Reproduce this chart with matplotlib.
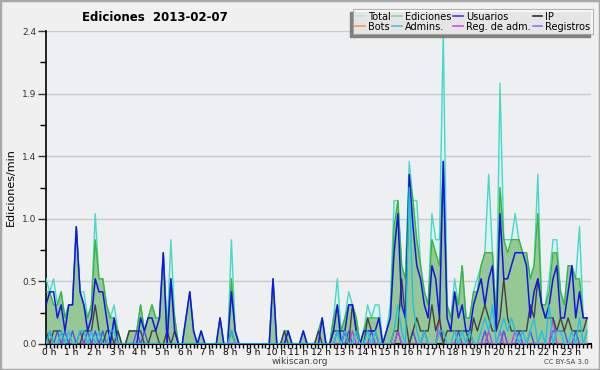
import numpy as np
import matplotlib
matplotlib.use("Agg")
import matplotlib.pyplot as plt
from matplotlib.lines import Line2D
from matplotlib.patches import Rectangle

# edits per 10-minute bin (144 bins), divided by 10 -> edits/min
total = [5, 4, 5, 3, 4, 2,  3, 3, 9, 4, 4, 2,  3, 10, 5, 5, 3, 2,  3, 1, 0, 0, 1, 1,
         1, 3, 1, 2, 3, 2,  2, 7, 1, 8, 2, 0,  0, 2, 4, 1, 0, 1,  0, 0, 0, 0, 2, 0,
         0, 8, 1, 0, 0, 0,  0, 0, 0, 0, 0, 0,  5, 0, 0, 1, 1, 0,  0, 0, 1, 0, 0, 0,
         1, 2, 0, 0, 2, 5,  1, 2, 4, 3, 2, 0,  1, 3, 2, 3, 3, 0,  1, 3, 11, 11, 6, 5,
         14, 11, 11, 6, 4, 3,  10, 8, 8, 24, 3, 2,  5, 3, 6, 2, 2, 4,  5, 6, 7, 13, 7, 2,
         20, 8, 8, 8, 10, 8,  7, 7, 5, 6, 13, 3,  3, 5, 8, 8, 4, 3,  6, 6, 5, 9, 2, 2]
ediciones = [4, 4, 3, 3, 4, 2,  3, 3, 9, 4, 3, 2,  3, 8, 5, 5, 3, 2,  2, 1, 0, 0, 1, 1,
             1, 3, 1, 2, 3, 2,  2, 7, 1, 5, 2, 0,  0, 2, 4, 1, 0, 1,  0, 0, 0, 0, 2, 0,
             0, 5, 1, 0, 0, 0,  0, 0, 0, 0, 0, 0,  5, 0, 0, 1, 1, 0,  0, 0, 1, 0, 0, 0,
             1, 2, 0, 0, 2, 3,  1, 2, 3, 3, 2, 0,  1, 2, 2, 2, 2, 0,  1, 2, 9, 11, 6, 5,
             13, 11, 8, 6, 4, 3,  8, 7, 6, 14, 3, 2,  4, 3, 6, 2, 2, 4,  4, 6, 7, 7, 7, 2,
             12, 8, 7, 8, 8, 8,  7, 7, 5, 6, 10, 3,  3, 4, 7, 7, 4, 3,  6, 6, 5, 5, 2, 2]
usuarios = [3, 4, 4, 2, 3, 1,  3, 3, 9, 4, 3, 1,  2, 5, 4, 4, 2, 0,  2, 0, 0, 0, 0, 0,
            0, 2, 1, 2, 2, 1,  2, 7, 0, 5, 1, 0,  0, 2, 4, 1, 0, 1,  0, 0, 0, 0, 2, 0,
            0, 4, 1, 0, 0, 0,  0, 0, 0, 0, 0, 0,  5, 0, 0, 0, 1, 0,  0, 0, 1, 0, 0, 0,
            0, 2, 0, 0, 1, 3,  0, 1, 3, 3, 1, 0,  1, 1, 1, 1, 2, 0,  1, 2, 7, 10, 3, 2,
            13, 9, 6, 5, 3, 2,  6, 5, 2, 14, 2, 1,  4, 2, 3, 1, 1, 3,  4, 5, 3, 5, 6, 1,
            10, 5, 5, 6, 7, 7,  7, 6, 2, 4, 5, 3,  2, 3, 5, 6, 2, 2,  4, 6, 2, 4, 2, 2]
ip = [1, 0, 1, 1, 1, 0,  0, 0, 0, 0, 1, 1,  1, 3, 1, 0, 1, 1,  0, 1, 0, 0, 1, 1,
      1, 1, 0, 0, 1, 1,  0, 0, 1, 0, 1, 0,  0, 0, 0, 0, 0, 0,  0, 0, 0, 0, 0, 0,
      0, 1, 0, 0, 0, 0,  0, 0, 0, 0, 0, 0,  0, 0, 0, 1, 0, 0,  0, 0, 0, 0, 0, 0,
      1, 0, 0, 0, 1, 1,  1, 1, 0, 3, 1, 0,  0, 2, 1, 1, 0, 0,  0, 0, 1, 1, 5, 2,
      0, 1, 2, 1, 1, 1,  3, 1, 2, 0, 1, 1,  1, 1, 1, 1, 0, 2,  1, 2, 3, 2, 1, 1,
      2, 5, 2, 1, 1, 1,  1, 1, 3, 2, 5, 3,  2, 2, 2, 1, 2, 1,  2, 1, 1, 1, 1, 2]
bots = [0] * 144
admins = [0, 1, 0, 0, 1, 0,  1, 0, 0, 1, 1, 0,  1, 0, 1, 0, 0, 1,  1, 0, 0, 0, 0, 0,
          0, 0, 0, 0, 0, 0,  0, 0, 0, 0, 0, 0,  0, 0, 0, 0, 0, 0,  0, 0, 0, 0, 0, 0,
          0, 1, 0, 0, 0, 0,  0, 0, 0, 0, 0, 0,  0, 0, 0, 0, 0, 0,  0, 0, 0, 0, 0, 0,
          0, 0, 0, 0, 0, 1,  0, 1, 0, 0, 1, 0,  0, 1, 0, 1, 0, 0,  0, 0, 1, 3, 1, 0,
          12, 3, 1, 0, 1, 0,  0, 0, 1, 1, 0, 0,  1, 0, 1, 0, 1, 0,  0, 1, 2, 1, 3, 0,
          1, 2, 1, 2, 1, 0,  1, 0, 1, 2, 0, 1,  0, 3, 0, 1, 1, 0,  0, 1, 0, 2, 0, 1]
reg_adm = [0, 0, 0, 0, 0, 0,  0, 0, 0, 0, 0, 0,  0, 0, 0, 0, 0, 0,  0, 0, 0, 0, 0, 0,
           0, 0, 0, 0, 0, 0,  0, 0, 0, 0, 0, 0,  0, 0, 0, 0, 0, 0,  0, 0, 0, 0, 0, 0,
           0, 0, 0, 0, 0, 0,  0, 0, 0, 0, 0, 0,  0, 0, 0, 0, 0, 0,  0, 0, 0, 0, 0, 0,
           0, 0, 0, 0, 0, 0,  0, 1, 0, 1, 0, 0,  0, 0, 0, 0, 0, 0,  0, 0, 0, 1, 0, 0,
           0, 0, 0, 0, 0, 0,  0, 0, 2, 0, 0, 0,  0, 0, 0, 0, 0, 0,  0, 0, 0, 1, 0, 0,
           1, 0, 0, 0, 1, 0,  0, 0, 0, 0, 0, 0,  0, 0, 2, 0, 0, 0,  0, 0, 0, 0, 0, 0]
registros = [0, 1, 0, 1, 0, 1,  0, 1, 0, 1, 0, 1,  0, 1, 0, 1, 0, 0,  0, 0, 0, 0, 0, 0,
             1, 0, 1, 0, 0, 0,  0, 0, 0, 0, 0, 0,  0, 0, 0, 0, 0, 0,  0, 0, 0, 0, 0, 0,
             0, 0, 0, 0, 0, 0,  0, 0, 0, 0, 0, 0,  0, 0, 0, 0, 0, 0,  0, 0, 0, 0, 0, 0,
             0, 0, 0, 0, 0, 1,  0, 0, 1, 0, 0, 0,  0, 0, 1, 0, 0, 0,  0, 0, 0, 1, 0, 0,
             0, 1, 0, 0, 1, 0,  0, 0, 1, 0, 0, 0,  0, 1, 0, 0, 1, 0,  0, 0, 1, 0, 0, 0,
             0, 1, 0, 0, 0, 1,  0, 0, 1, 0, 0, 0,  0, 0, 1, 1, 1, 1,  0, 0, 1, 0, 0, 0]
hour_labels = ["%d h" % h for h in range(24)]

x = np.arange(144) / 6.0
def rate(v):
    return np.array(v) / 10.0

fig = plt.figure(figsize=(6, 3.7), dpi=100, facecolor="#f0f0f0")
ax = fig.add_axes([0.0767, 0.0703, 0.908, 0.8457])
ax.set_facecolor("#eeeff1")

ax.fill_between(x, 0, rate(total), color="#d8f4f0", lw=0, zorder=1)
ax.fill_between(x, 0, rate(ediciones), color="#96c896", lw=0, zorder=2)
ax.plot(x, rate(bots), color="#f0a040", lw=1, zorder=3)
ax.plot(x, rate(total), color="#48d8c8", lw=1, zorder=3)
ax.plot(x, rate(ediciones), color="#3cb43c", lw=1, zorder=4)
ax.plot(x, rate(registros), color="#5050e8", lw=1, zorder=4)
ax.plot(x, rate(reg_adm), color="#c040e0", lw=1, zorder=4)
ax.plot(x, rate(ip), color="#404040", lw=1, zorder=5)
ax.plot(x, rate(usuarios), color="#1414e6", lw=1.1, zorder=6)
ax.plot(x, rate(admins), color="#20c0e0", lw=1, zorder=6)

ax.set_xlim(0, 24)
ax.set_ylim(0, 2.4)
yt = np.linspace(0, 2.4, 6)
ax.set_yticks(yt)
ax.set_yticklabels(["%.1f" % v for v in yt])
ax.set_yticks((yt[:-1] + yt[1:]) / 2, minor=True)
ax.set_xticks(np.arange(24) + 0.12)
ax.set_xticklabels(hour_labels, ha="center")
ax.set_xticks(np.arange(145) / 6.0, minor=True)
ax.grid(axis="y", color="#c8c8c8", lw=1)
ax.set_axisbelow(True)
for side in ["top", "right"]:
    ax.spines[side].set_visible(False)
ax.spines["left"].set_linewidth(1.2)
ax.spines["bottom"].set_linewidth(1.5)
ax.tick_params(axis="y", which="major", length=6, width=1, labelsize=6.5, pad=1, colors="#333333")
ax.tick_params(axis="y", which="minor", length=4, width=1)
ax.tick_params(axis="x", which="major", length=0, labelsize=6.5, pad=3)
ax.tick_params(axis="x", which="minor", length=3, width=1)

fig.text(0.258, 0.953, "Ediciones  2013-02-07", ha="center", va="center",
         fontsize=8.5, fontweight="bold")
fig.text(0.018, 0.495, "Ediciones/min", rotation=90, ha="center", va="center", fontsize=8)
fig.text(0.5, 0.024, "wikiscan.org", ha="center", va="center", fontsize=6.5, color="#444444")
fig.text(0.982, 0.022, "CC BY-SA 3.0", ha="right", va="center", fontsize=5, color="#444444")

names = ["Total", "Bots", "Ediciones", "Admins.", "Usuarios", "Reg. de adm.", "IP", "Registros"]
colors = ["#b0ece4", "#f0a040", "#90d890", "#40c8d8", "#4040e0", "#d050e0", "#303030", "#8080f0"]
handles = [Line2D([], [], color=c, lw=1.2) for c in colors]
leg = fig.legend(handles, names, ncol=4, loc="upper right", bbox_to_anchor=(0.988, 0.975),
                 fontsize=7, frameon=True, fancybox=False, handlelength=1.0,
                 handletextpad=0.3, columnspacing=0.2, labelspacing=0.0,
                 borderpad=0.25, borderaxespad=0)
leg.get_frame().set_edgecolor("#a0a0a0")
leg.get_frame().set_linewidth(0.8)
fig.canvas.draw()
bb = leg.get_window_extent().transformed(fig.transFigure.inverted())
fig.patches.append(Rectangle((bb.x0 - 3 / 600, bb.y0 - 3 / 370), bb.width, bb.height,
                             transform=fig.transFigure, color="#808080", zorder=0))
leg.set_zorder(5)

fig.patches.append(Rectangle((0, 0), 1, 1, transform=fig.transFigure, fill=False,
                             edgecolor="#a8a8a8", lw=2.5))
fig.savefig("out.png", dpi=100, facecolor=fig.get_facecolor())
